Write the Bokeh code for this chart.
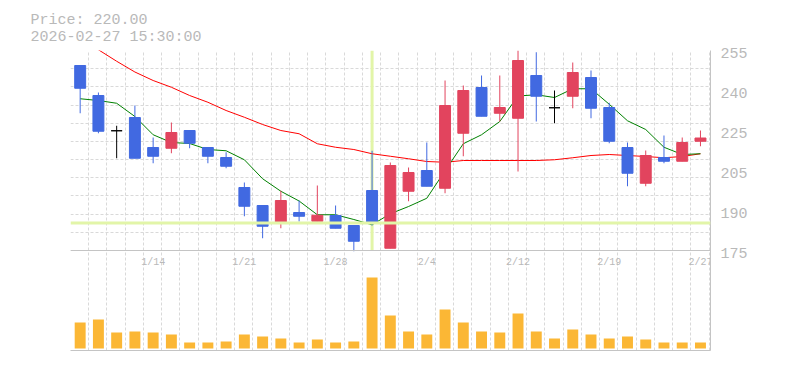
from bokeh.plotting import figure
from bokeh.models import Range1d, FixedTicker, Span, Title, ColumnDataSource
from bokeh.core.properties import value
from bokeh.embed import file_html
from bokeh.resources import INLINE

# ---------------- data ----------------
dates = ["1/7", "1/8", "1/9", "1/13", "1/14", "1/15", "1/16", "1/19", "1/20", "1/21",
         "1/22", "1/23", "1/26", "1/27", "1/28", "1/29", "1/30", "2/2", "2/3", "2/4",
         "2/5", "2/6", "2/9", "2/10", "2/12", "2/13", "2/16", "2/17", "2/18", "2/19",
         "2/20", "2/24", "2/25", "2/26", "2/27"]
opens = [249.0, 237.0, 222.9, 228.2, 216.2, 215.9, 223.0, 216.2, 212.2, 200.2,
         193.0, 185.9, 190.2, 186.7, 189.0, 185.0, 199.0, 175.9, 198.7, 207.0,
         199.9, 221.9, 240.2, 229.9, 227.9, 245.0, 232.1, 236.7, 244.2, 232.2,
         216.2, 201.9, 212.2, 210.7, 218.7]
highs = [249.0, 238.2, 224.9, 233.0, 220.2, 226.2, 223.0, 216.2, 214.3, 202.2,
         193.0, 198.9, 195.0, 201.0, 193.0, 185.0, 214.9, 210.2, 208.2, 218.2,
         243.0, 241.0, 245.0, 245.0, 255.0, 254.3, 239.0, 250.2, 247.0, 234.1,
         218.2, 215.0, 221.0, 220.2, 223.0]
lows = [229.9, 221.9, 211.9, 211.9, 209.9, 213.9, 215.9, 209.9, 207.9, 188.7,
        179.9, 183.9, 186.6, 186.7, 183.9, 174.7, 185.0, 175.9, 194.7, 200.7,
        197.9, 212.7, 228.7, 226.6, 206.6, 226.6, 225.9, 231.9, 227.9, 217.9,
        200.7, 200.7, 209.9, 210.7, 216.7]
closes = [239.9, 222.7, 222.9, 211.9, 212.7, 222.2, 217.9, 212.7, 208.7, 192.7,
          184.7, 195.0, 188.7, 189.1, 183.9, 178.7, 185.9, 209.0, 206.2, 200.7,
          233.0, 239.0, 228.7, 232.2, 251.0, 236.7, 232.1, 246.2, 231.9, 218.7,
          205.9, 213.0, 210.7, 218.2, 220.0]
ma_short = [235.7, 235.0, 233.9, 228.6, 221.3, 218.2, 217.8, 215.4, 214.9, 211.3,
            203.7, 198.7, 194.8, 189.3, 189.3, 187.4, 185.3, 189.7, 192.6, 195.9,
            206.9, 217.7, 221.3, 226.6, 236.8, 237.3, 236.2, 239.7, 239.7, 233.5,
            226.9, 223.4, 216.3, 213.4, 213.7]
ma_long = [260.0, 255.3, 250.7, 246.4, 243.0, 240.3, 237.0, 234.3, 231.0, 228.3,
           225.4, 223.0, 221.7, 217.7, 216.3, 215.4, 213.7, 212.7, 211.7, 210.6,
           210.3, 211.0, 211.0, 211.0, 211.0, 211.0, 211.3, 212.1, 213.0, 213.4,
           213.0, 212.6, 212.1, 212.6, 213.7]
volumes = [26000, 29000, 16000, 17000, 16000, 14000, 6000, 6000, 7000, 14000,
           12000, 10000, 6000, 9000, 6000, 7000, 71000, 33000, 17000, 14000,
           39000, 26000, 17000, 16000, 35000, 17000, 10000, 19000, 14000, 10000,
           12000, 9000, 6000, 6000, 6000]
tick_labels = ["1/14", "1/21", "1/28", "2/4", "2/12", "2/19", "2/27"]
price_ticks = [255, 239, 223, 207, 191, 175]
price_tick_labels = ["255", "240", "225", "205", "190", "175"]
last_price = "220.00"
last_time = "2026-02-27 15:30:00"
cross_date = "1/30"
cross_price = 186.0

# ---------------- styling ----------------
UP = "#e2445e"
DOWN = "#4169e1"
DOJI = "#000000"
VOL = "#fbb735"
GRID = "#d9d9d9"
BORDER = "#c4c4c4"
TXT = "#b9b9b9"
CROSS = "#e2f5a8"
MONO = "Liberation Mono"

n = len(dates)
idx = list(range(n))
colors = [UP if c > o else (DOWN if c < o else DOJI) for o, c in zip(opens, closes)]
src = ColumnDataSource(dict(
    x=idx, o=opens, h=highs, l=lows, c=closes,
    top=[max(o, c) for o, c in zip(opens, closes)],
    bottom=[min(o, c) for o, c in zip(opens, closes)],
    color=colors, vol=volumes))

p = figure(width=768, height=360, output_backend="svg", toolbar_location=None,
           title=None, x_range=Range1d(-0.53, 34.55), y_range=Range1d(135, 255),
           y_axis_location="right", x_axis_location="below",
           min_border_left=70, min_border_right=58, min_border_top=50,
           min_border_bottom=10)
p.extra_y_ranges = {"vol": Range1d(-2000, 298000)}
p.outline_line_color = None
p.background_fill_color = "white"
p.border_fill_color = "white"

# grids
p.xgrid.ticker = FixedTicker(ticks=[k - 0.53 for k in range(36)])
p.xgrid.grid_line_color = GRID
p.xgrid.grid_line_dash = "3 2"
p.ygrid.ticker = FixedTicker(ticks=[175 + 80 / 11 * k for k in range(12)])
p.ygrid.grid_line_color = GRID
p.ygrid.grid_line_dash = "3 2"

# right price axis
yax = p.yaxis[0]
shift = 1.0
yax.ticker = FixedTicker(ticks=[t - shift for t in price_ticks])
yax.major_label_overrides = {t - shift: lab for t, lab in zip(price_ticks, price_tick_labels)}
yax.major_tick_out = 0
yax.major_tick_in = 0
yax.minor_tick_out = 0
yax.minor_tick_in = 0
yax.major_label_standoff = 10
yax.axis_line_color = BORDER
yax.major_label_text_color = TXT
yax.major_label_text_font = MONO
yax.major_label_text_font_size = "15px"

# bottom axis: only its line
xax = p.xaxis[0]
xax.ticker = FixedTicker(ticks=[])
xax.major_label_text_font_size = "0px"
xax.major_tick_out = 0
xax.minor_tick_out = 0
xax.major_label_standoff = 0
xax.axis_line_color = BORDER

# separator between price and volume panels
p.add_layout(Span(location=175, dimension="width", line_color=BORDER, line_width=1))

# crosshair
ci = dates.index(cross_date)
p.add_layout(Span(location=cross_price, dimension="width", line_color=CROSS, line_width=3))
p.segment(x0=[ci], y0=[175], x1=[ci], y1=[255], line_color=CROSS, line_width=3)

# volume
p.vbar(x="x", top="vol", bottom=0, width=0.6, fill_color=VOL, line_color=None,
       y_range_name="vol", source=src)

# moving averages
p.line(idx, ma_long, line_color="red", line_width=1)
p.line(idx, ma_short, line_color="green", line_width=1)

# candles
p.segment(x0="x", y0="l", x1="x", y1="h", line_color="color", line_width=1, source=src)
p.vbar(x="x", top="top", bottom="bottom", width=0.6, fill_color="color",
       line_color="color", line_width=1, source=src)

# date labels inside volume panel
lab_x = [dates.index(t) for t in tick_labels]
p.text(x=lab_x, y=[170.2] * len(lab_x), text=tick_labels, text_align="center",
       text_baseline="middle", text_color=TXT, text_font=value(MONO),
       text_font_size="10px")

# header text
p.add_layout(Title(text="Price: " + last_price + "\n" + last_time, align="left",
                   offset=-40, standoff=10, text_line_height=1.0,
                   text_color=TXT, text_font=MONO, text_font_size="15px",
                   text_font_style="normal"), "above")

open("out.html", "w").write(file_html(p, INLINE))
